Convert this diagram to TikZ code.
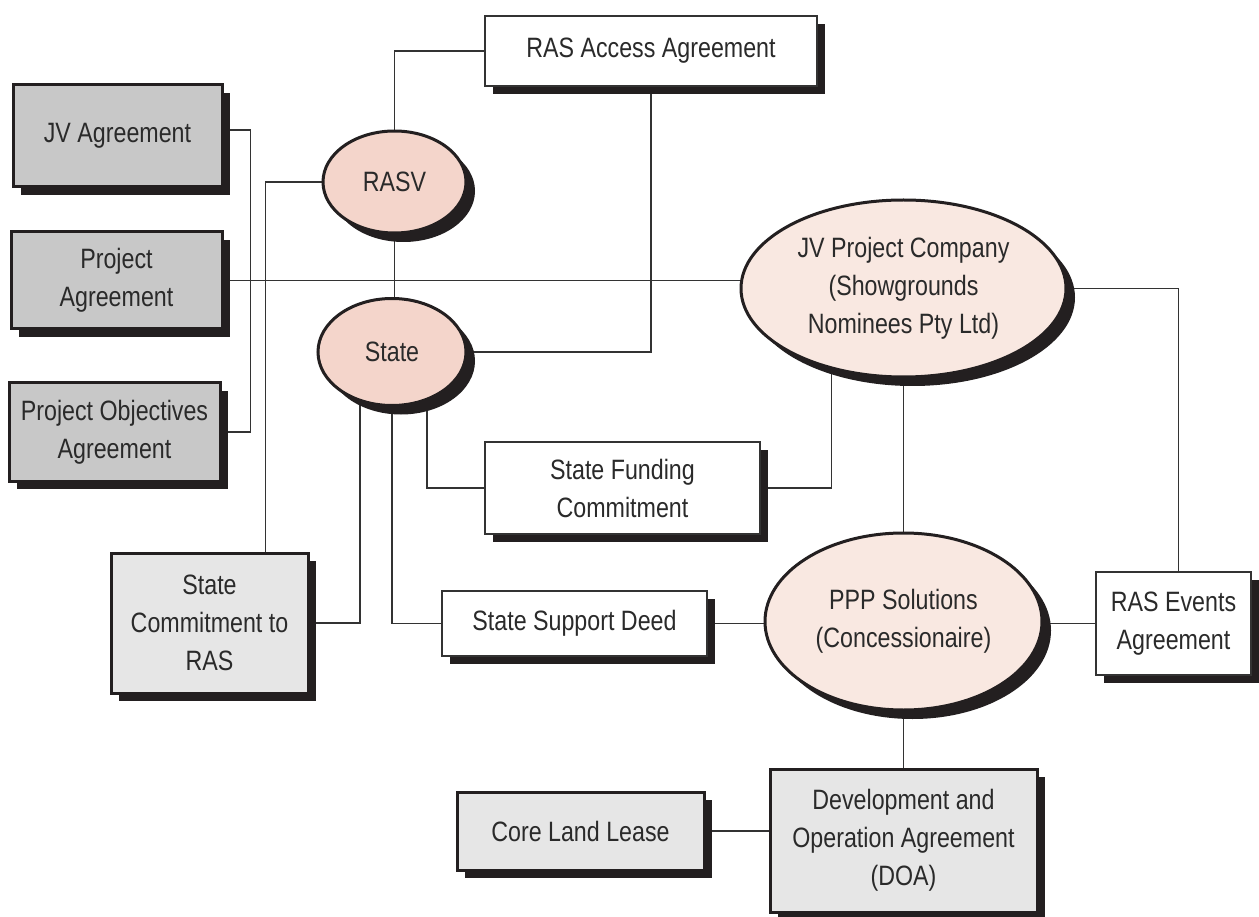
\documentclass[tikz,border=0pt]{standalone}
\usepackage{fontspec}
\setmainfont{Liberation Sans}[FakeStretch=0.83]
\usetikzlibrary{shapes.geometric,shadows,backgrounds}
\definecolor{shadowc}{HTML}{231F20}
\definecolor{linec}{HTML}{333333}
\definecolor{textc}{HTML}{2A2A2A}
\definecolor{darkfill}{HTML}{C8C8C8}
\definecolor{lightfill}{HTML}{E6E6E6}
\definecolor{salmon}{HTML}{F4D5CB}
\definecolor{pale}{HTML}{F9E8E1}
\tikzset{
  base/.style={inner sep=0pt, outer sep=0pt, align=center, text=textc,
    font=\fontsize{28}{38}\selectfont},
  boxshadow/.style={drop shadow={shadow xshift=8pt,shadow yshift=-8pt,fill=shadowc,opacity=1}},
  ellshadow/.style={drop shadow={shadow xshift=9pt,shadow yshift=-9pt,fill=shadowc,opacity=1}},
  darkbox/.style={base, rectangle, draw=shadowc, line width=3pt, fill=darkfill, boxshadow},
  lightbox/.style={base, rectangle, draw=shadowc, line width=3pt, fill=lightfill, boxshadow},
  whitebox/.style={base, rectangle, draw=linec, line width=1.5pt, fill=white, boxshadow},
  strongell/.style={base, ellipse, draw=shadowc, line width=3pt, fill=salmon, ellshadow},
  paleell/.style={base, ellipse, draw=shadowc, line width=3pt, fill=pale, ellshadow},
  conn/.style={draw=linec, line width=1.5pt}
}
\begin{document}
\begin{tikzpicture}[x=1pt,y=-1pt]
\useasboundingbox (0,0) rectangle (1259,917);
% boxes
\node[darkbox, minimum width=209pt, minimum height=102pt] (jva) at (117.5,136) {JV Agreement};
\node[darkbox, minimum width=211pt, minimum height=97pt] (pa) at (116.5,280.5) {Project\\Agreement};
\node[darkbox, minimum width=211pt, minimum height=98pt] (poa) at (114.5,432) {Project Objectives\\Agreement};
\node[whitebox, minimum width=332pt, minimum height=70pt] (rasa) at (651,51) {RAS Access Agreement};
\node[whitebox, minimum width=275pt, minimum height=92pt] (sfc) at (622.5,488) {State Funding\\Commitment};
\node[whitebox, minimum width=265pt, minimum height=65pt] (ssd) at (574.5,623.5) {State Support Deed};
\node[lightbox, minimum width=197pt, minimum height=140pt] (scr) at (209.5,623) {State\\Commitment to\\RAS};
\node[whitebox, minimum width=155pt, minimum height=103pt] (rase) at (1173.5,623.5) {RAS Events\\Agreement};
\node[lightbox, minimum width=247pt, minimum height=78pt] (cll) at (580.5,831) {Core Land Lease};
\node[lightbox, minimum width=267pt, minimum height=143pt] (doa) at (903.5,840.5) {Development and\\Operation Agreement\\(DOA)};
% ellipses
\node[strongell, minimum width=143pt, minimum height=102pt] (rasv) at (394.5,182) {RASV};
\node[strongell, minimum width=148pt, minimum height=107pt] (state) at (392,352) {State};
\node[paleell, minimum width=325pt, minimum height=177pt] (jvpc) at (903.5,288.5) {JV Project Company\\(Showgrounds\\Nominees Pty Ltd)};
\node[paleell, minimum width=277pt, minimum height=177pt] (ppp) at (903.5,621.5) {PPP Solutions\\(Concessionaire)};
% connectors
\begin{pgfonlayer}{background}
\fill[white] (0,0) rectangle (1259,917);
\draw[conn] ([yshift=6pt]jva.center) -- ++(133,0) |- (poa.center);
\draw[conn] (pa.center) -- (pa.center -| jvpc.center);
\draw[conn] (rasv.center) -| ([xshift=56pt]scr.center);
\draw[conn] (rasv.center) |- (rasa.center);
\draw[conn] (rasv.center) -- (rasv.center |- state.center);
\draw[conn] (state.center) -| (rasa.center);
\draw[conn] ([xshift=35pt]state.center) |- (sfc.center);
\draw[conn] (state.center) |- (ssd.center);
\draw[conn] ([xshift=-32pt]state.center) |- (scr.center);
\draw[conn] (sfc.center) -| ([xshift=-72pt]jvpc.center);
\draw[conn] (jvpc.center) -- (ppp.center);
\draw[conn] (jvpc.center) -| ([xshift=5pt]rase.center);
\draw[conn] (ssd.center) -- (ssd.center -| ppp.center);
\draw[conn] (rase.center) -- (rase.center -| ppp.center);
\draw[conn] (ppp.center) -- (doa.center);
\draw[conn] (cll.center) -- (cll.center -| doa.center);
\end{pgfonlayer}
\end{tikzpicture}
\end{document}
